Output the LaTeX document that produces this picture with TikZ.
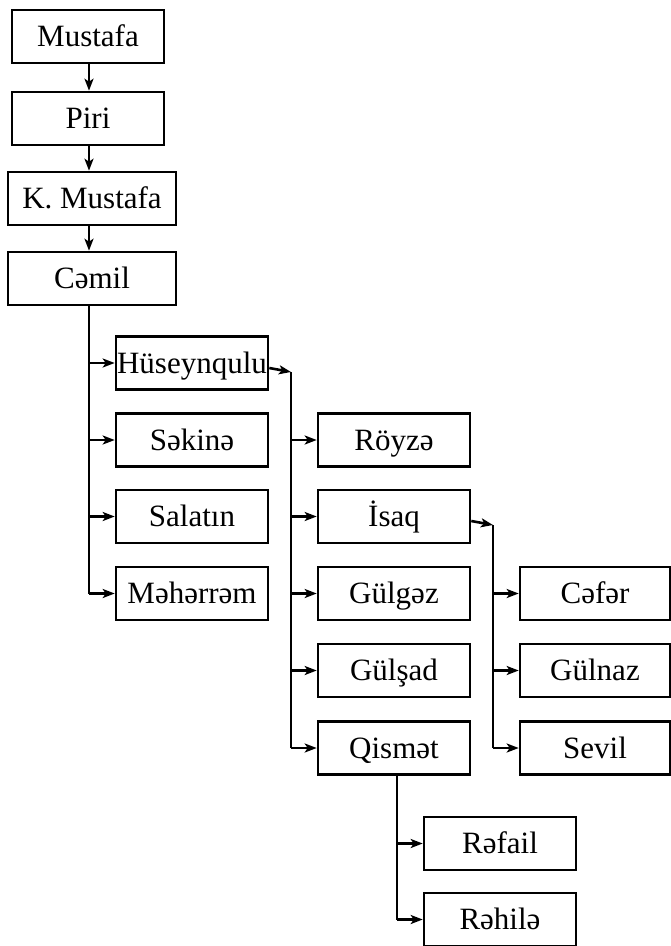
\documentclass[tikz,border=0pt]{standalone}
\usepackage{fontspec}
\setmainfont{Liberation Serif}
\usetikzlibrary{arrows.meta}
\tikzset{
  person/.style={draw=black, line width=2.6pt, rectangle, inner sep=0pt,
    minimum width=152pt, minimum height=53pt, text height=24pt, text depth=4pt,
    font=\fontsize{31}{36}\selectfont, text=black},
  wide/.style={minimum width=168pt},
  link/.style={line width=2.6pt, -{Stealth[length=12pt,width=9pt,inset=3pt]}},
  trunk/.style={line width=2.6pt},
}
\begin{document}
\begin{tikzpicture}[x=1pt,y=-1pt]
\useasboundingbox (0,0) rectangle (671,946);
% column 1
\node[person] (mus) at (88,36.5) {Mustafa};
\node[person] (piri) at (88,118.5) {Piri};
\node[person,wide] (kmus) at (92,198.5) {K. Mustafa};
\node[person,wide] (cem) at (92,278.5) {Cəmil};
% column 2
\node[person] (hus) at (192,363) {Hüseynqulu};
\node[person] (sek) at (192,440) {Səkinə};
\node[person] (sal) at (192,516.5) {Salatın};
\node[person] (meh) at (192,593.5) {Məhərrəm};
% column 3
\node[person] (roy) at (394,440) {Röyzə};
\node[person] (isa) at (394,516.5) {İsaq};
\node[person] (gulg) at (394,593.5) {Gülgəz};
\node[person] (guls) at (394,670.5) {Gülşad};
\node[person] (qis) at (394,748) {Qismət};
% column 4
\node[person,minimum width=150pt] (cef) at (595,593.5) {Cəfər};
\node[person,minimum width=150pt] (guln) at (595,670.5) {Gülnaz};
\node[person,minimum width=150pt] (sev) at (595,748) {Sevil};
% column 5
\node[person] (ref) at (500,843.5) {Rəfail};
\node[person] (reh) at (500,919.5) {Rəhilə};
% coordinates
\coordinate (t1) at (89,305);
\coordinate (h1) at (291,372);
\coordinate (i1) at (493,525);
\coordinate (q1) at (397,774);
% chain
\draw[link] (89,63) -- (piri.north -| 89,0);
\draw[link] (piri.south -| 89,0) -- (kmus.north -| 89,0);
\draw[link] (kmus.south -| 89,0) -- (cem.north -| 89,0);
% Cemil children
\draw[trunk] (t1) -- (t1 |- meh.west);
\draw[link] (t1 |- hus.west) -- (hus.west);
\draw[link] (t1 |- sek.west) -- (sek.west);
\draw[link] (t1 |- sal.west) -- (sal.west);
\draw[link] (t1 |- meh.west) -- (meh.west);
% Huseynqulu children
\draw[link] ([yshift=-5pt]hus.east) -- (h1);
\draw[trunk] (h1) -- (h1 |- qis.west);
\draw[link] (h1 |- roy.west) -- (roy.west);
\draw[link] (h1 |- isa.west) -- (isa.west);
\draw[link] (h1 |- gulg.west) -- (gulg.west);
\draw[link] (h1 |- guls.west) -- (guls.west);
\draw[link] (h1 |- qis.west) -- (qis.west);
% Isaq children
\draw[link] ([yshift=-4.5pt]isa.east) -- (i1);
\draw[trunk] (i1) -- (i1 |- sev.west);
\draw[link] (i1 |- cef.west) -- (cef.west);
\draw[link] (i1 |- guln.west) -- (guln.west);
\draw[link] (i1 |- sev.west) -- (sev.west);
% Qismet children
\draw[trunk] (q1) -- (q1 |- reh.west);
\draw[link] (q1 |- ref.west) -- (ref.west);
\draw[link] (q1 |- reh.west) -- (reh.west);
\end{tikzpicture}
\end{document}
